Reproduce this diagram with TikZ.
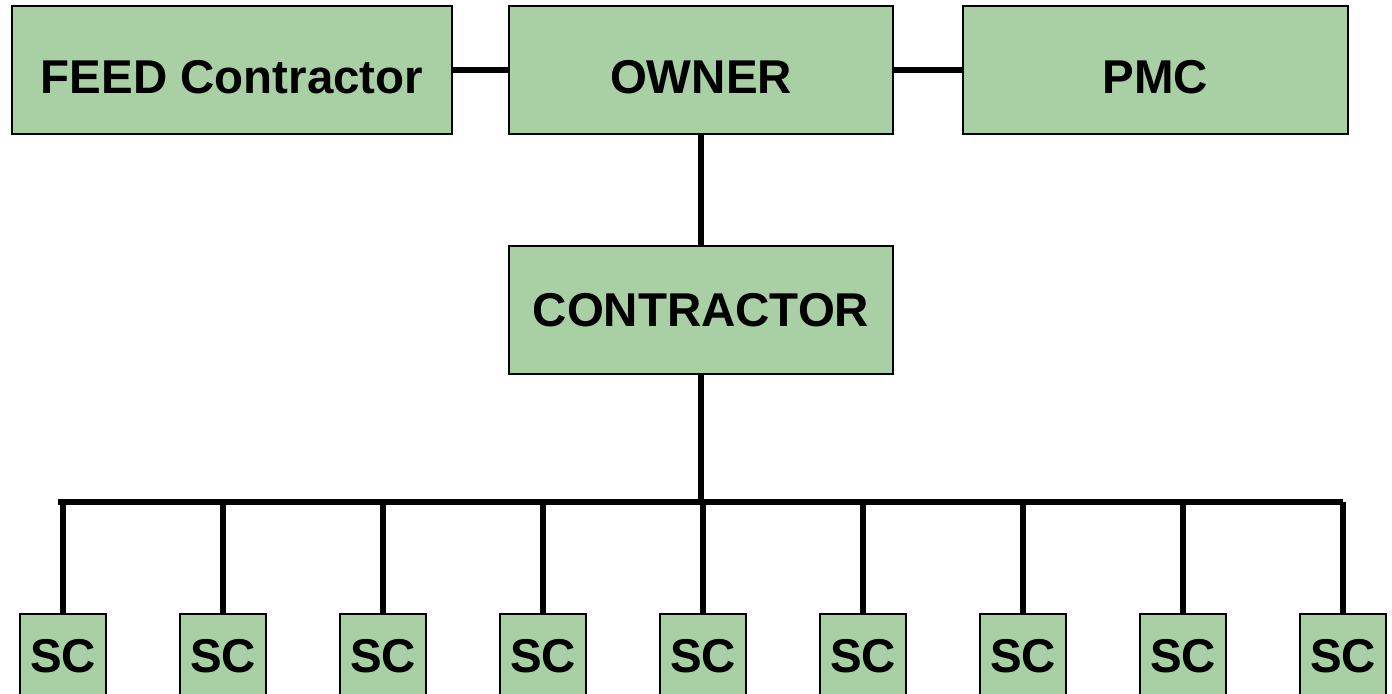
\documentclass[tikz,border=0pt]{standalone}
\usepackage{fontspec}
\setmainfont{Liberation Sans}
\usepackage{tikz}
\usetikzlibrary{positioning}
\definecolor{boxgreen}{RGB}{168,208,164}

\begin{document}
\begin{tikzpicture}[
    box/.style={draw=black, line width=1.2pt, fill=boxgreen, inner sep=0pt,
      font=\fontsize{27}{31}\selectfont\bfseries, minimum height=2.56cm},
    topbox/.style={box, text height=0.96cm, text depth=0cm},
    subbox/.style={box, minimum width=1.72cm, minimum height=1.68cm},
    link/.style={line width=3pt}
  ]
    \clip (0,0) rectangle (27.84,-13.86);
    \node[topbox, minimum width=8.8cm] (feed) at (4.64,-1.40) {FEED Contractor};
    \node[topbox, minimum width=7.68cm] (owner) at (14.02,-1.40) {OWNER};
    \node[topbox, minimum width=7.7cm] (pmc) at (23.11,-1.40) {PMC};
    \node[box, minimum width=7.68cm] (contractor) at (14.02,-6.20) {CONTRACTOR};
    \foreach \i in {0,...,8}
      \node[subbox] (sc\i) at (1.26+3.2*\i,-13.12) {SC};
    % bus line to the subcontractors
    \coordinate (busL) at (1.22,-10.04);
    \coordinate (busR) at (26.80,-10.04);
    \draw[link] (feed) -- (owner);
    \draw[link] (owner) -- (pmc);
    \draw[link] (owner) -- (contractor);
    \draw[link] (contractor.south) -- (contractor.south |- busL);
    \draw[link, line cap=rect] (busL) -- (busR);
    \foreach \i in {0,...,8}
      \draw[link] (sc\i.north) -- (sc\i.north |- busL);
  \end{tikzpicture}
\end{document}
